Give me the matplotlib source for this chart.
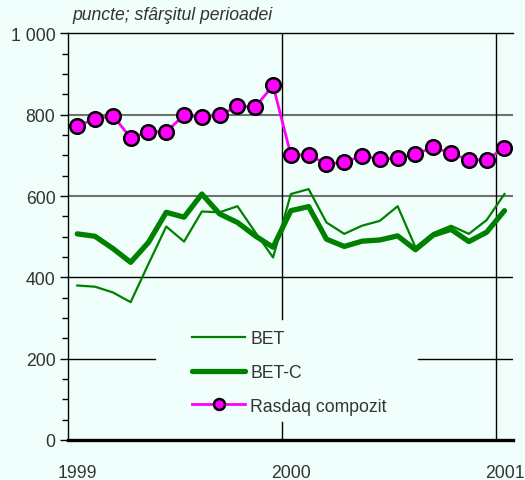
import matplotlib
matplotlib.use("Agg")
import matplotlib.pyplot as plt
from matplotlib.ticker import MultipleLocator, FixedLocator, FuncFormatter

plt.rcParams['font.family'] = ['Liberation Sans', 'DejaVu Sans']

# monthly observations, Jan 1999 .. Jan 2001 (end of period)
months = list(range(25))
bet = [380, 377, 363, 339, 433, 525, 488, 562, 560, 575, 511, 449,
       605, 617, 535, 507, 527, 539, 575, 474, 509, 527, 507, 541, 605]
bet_c = [507, 501, 471, 437, 486, 560, 548, 605, 556, 535, 502, 474,
         564, 574, 494, 476, 489, 492, 502, 468, 504, 518, 488, 511, 564]
rasdaq = [773, 789, 798, 743, 758, 758, 799, 794, 799, 821, 819, 872,
          701, 701, 679, 683, 699, 691, 693, 703, 720, 705, 689, 689, 719]
year_labels = ['1999', '2000', '2001']
year_label_pos = [0, 12, 24]
year_bounds = [11.5, 23.5]
series_names = ['BET', 'BET-C', 'Rasdaq compozit']

bg = '#F0FFFB'
txt = '#333333'
fs = 12.7

fig = plt.figure(figsize=(5.25, 4.81), dpi=100, facecolor=bg)
ax = fig.add_axes([68/525, 40/481, 445/525, 406.6/481])
ax.set_facecolor(bg)

ax.set_xlim(-0.52, 24.48)
ax.set_ylim(0, 1000)

# grid lines
ax.axhline(800, color='#707070', lw=1.5, zorder=1)
ax.axhline(600, color='#707070', lw=1.5, zorder=1)
ax.axhline(400, color='black', lw=1.0, zorder=1)
ax.axhline(200, xmin=0, xmax=(155-68)/445, color='black', lw=1.0, zorder=1)
ax.axhline(200, xmin=(418-68)/445, xmax=1, color='black', lw=1.0, zorder=1)
ax.axvline(year_bounds[0], ymin=0, ymax=18/406.6, color='black', lw=1.0, zorder=1)
ax.axvline(year_bounds[0], ymin=121/406.6, ymax=1, color='black', lw=1.0, zorder=1)
ax.axvline(year_bounds[1], color='black', lw=1.0, zorder=1)

l1, = ax.plot(months, bet, color='#008000', lw=1.6, zorder=3, label=series_names[0])
l2, = ax.plot(months, bet_c, color='#008000', lw=3.8, zorder=3, label=series_names[1],
              solid_capstyle='round', solid_joinstyle='round')
l3, = ax.plot(months, rasdaq, color='#FF00FF', lw=2.0, zorder=4, marker='o',
              markersize=10.5, markerfacecolor='#FF00FF', markeredgecolor='black',
              markeredgewidth=1.8, label=series_names[2])

# spines
ax.spines['right'].set_visible(False)
ax.spines['top'].set_linewidth(1.0)
ax.spines['left'].set_linewidth(1.0)
ax.spines['bottom'].set_linewidth(2.4)
ax.spines['bottom'].set_zorder(5)

# y ticks
ax.yaxis.set_major_locator(MultipleLocator(200))
ax.yaxis.set_minor_locator(MultipleLocator(50))
ax.yaxis.set_major_formatter(FuncFormatter(lambda v, p: f"{int(v):,}".replace(',', ' ')))
ax.tick_params(axis='y', which='major', length=6, width=1.0, labelsize=fs,
               labelcolor=txt, pad=3)
ax.tick_params(axis='y', which='minor', length=4, width=1.0)

# x ticks
ax.xaxis.set_major_locator(FixedLocator(year_label_pos))
ax.set_xticklabels(year_labels)
ax.tick_params(axis='x', which='major', length=0, labelsize=fs, labelcolor=txt, pad=17)

fig.text(72/525, 1 - 16/481, 'puncte; sfârşitul perioadei', style='italic',
         fontsize=fs, color=txt, va='center', ha='left')

leg = ax.legend(handles=[l1, l2, l3], loc='upper left',
                bbox_to_anchor=((185-68)/445, (441-324)/406.6),
                frameon=False, fontsize=fs, handlelength=3.0, handletextpad=0.3,
                labelspacing=0.95, borderaxespad=0, markerscale=0.75)
for t in leg.get_texts():
    t.set_color(txt)

fig.savefig('out.png', dpi=100, facecolor=bg)
